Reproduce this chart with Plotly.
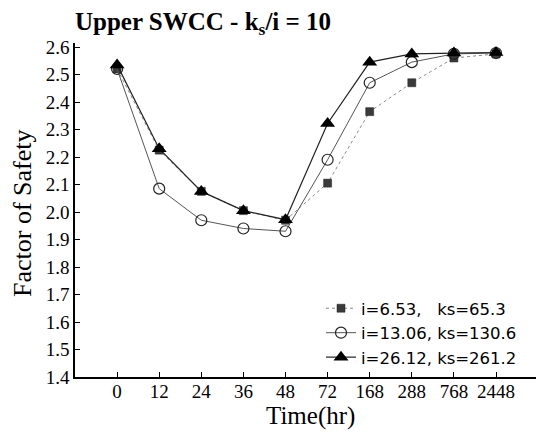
import plotly.graph_objects as go

time_labels = ["0", "12", "24", "36", "48", "72", "168", "288", "768", "2448"]
fs_i653 = [2.52, 2.225, 2.075, 2.005, 1.97, 2.105, 2.365, 2.47, 2.56, 2.575]
fs_i1306 = [2.52, 2.085, 1.97, 1.94, 1.93, 2.19, 2.47, 2.545, 2.575, 2.578]
fs_i2612 = [2.535, 2.23, 2.075, 2.005, 1.972, 2.322, 2.545, 2.575, 2.578, 2.58]
series_names = ["i=6.53,\u00a0\u00a0\u00a0ks=65.3", "i=13.06, ks=130.6", "i=26.12, ks=261.2"]

x_idx = list(range(len(time_labels)))
SERIF = "Liberation Serif, Times New Roman, serif"

fig = go.Figure()
fig.add_trace(go.Scatter(
    x=x_idx, y=fs_i653, name=series_names[0], mode="lines+markers",
    line=dict(color="#8a8a8a", width=1, dash="dot"),
    marker=dict(symbol="square", size=8, color="#3a3a3a", line=dict(color="#222", width=0.5)),
))
fig.add_trace(go.Scatter(
    x=x_idx, y=fs_i1306, name=series_names[1], mode="lines+markers",
    line=dict(color="#555555", width=1),
    marker=dict(symbol="circle-open", size=11, color="#222", line=dict(color="#222", width=1.2)),
))
fig.add_trace(go.Scatter(
    x=x_idx, y=fs_i2612, name=series_names[2], mode="lines+markers",
    line=dict(color="#222222", width=1.2),
    marker=dict(symbol="triangle-up", size=13, color="#000"),
))

fig.update_layout(
    width=536, height=434,
    margin=dict(l=75, r=0, t=43, b=57),
    plot_bgcolor="white", paper_bgcolor="white",
    showlegend=True,
    title=dict(
        text="<b>Upper SWCC - k<sub>s</sub>/i = 10</b>",
        font=dict(family=SERIF, size=25, color="black"),
        xref="container", x=75/536, xanchor="left",
        yref="container", y=1-21/434, yanchor="middle",
    ),
    legend=dict(
        x=(321-75)/461, xanchor="left",
        y=(377-291)/334, yanchor="top",
        bgcolor="rgba(0,0,0,0)",
        font=dict(family="DejaVu Sans", size=16.5, color="black"),
        tracegroupgap=0,
        itemclick=False,
    ),
    xaxis=dict(
        range=[-1, 9.95], tickmode="array", tickvals=x_idx, ticktext=time_labels,
        showgrid=False, zeroline=False, showline=True, linecolor="black", linewidth=1.5,
        ticks="inside", ticklen=5, tickwidth=1.2, tickcolor="black",
        tickfont=dict(family=SERIF, size=19, color="black"),
        ticklabelstandoff=-4,
        fixedrange=True,
    ),
    yaxis=dict(
        range=[1.4, 2.6146], tickmode="array",
        tickvals=[1.4, 1.5, 1.6, 1.7, 1.8, 1.9, 2.0, 2.1, 2.2, 2.3, 2.4, 2.5, 2.6],
        ticktext=["1.4", "1.5", "1.6", "1.7", "1.8", "1.9", "2.0", "2.1", "2.2", "2.3", "2.4", "2.5", "2.6"],
        showgrid=False, zeroline=False, showline=True, linecolor="black", linewidth=1.5,
        ticks="inside", ticklen=5, tickwidth=1.2, tickcolor="black",
        tickfont=dict(family=SERIF, size=19, color="black"),
        fixedrange=True,
    ),
    annotations=[
        dict(text="Time(hr)", xref="paper", yref="paper", x=(310-75)/461, y=(377-416)/334,
             xanchor="center", yanchor="middle", showarrow=False,
             font=dict(family=SERIF, size=25, color="black")),
        dict(text="Factor of Safety", xref="paper", yref="paper", x=(22-75)/461, y=(377-213)/334,
             xanchor="center", yanchor="middle", showarrow=False, textangle=-90,
             font=dict(family=SERIF, size=26, color="black")),
    ],
)

fig.write_html("out.html")
